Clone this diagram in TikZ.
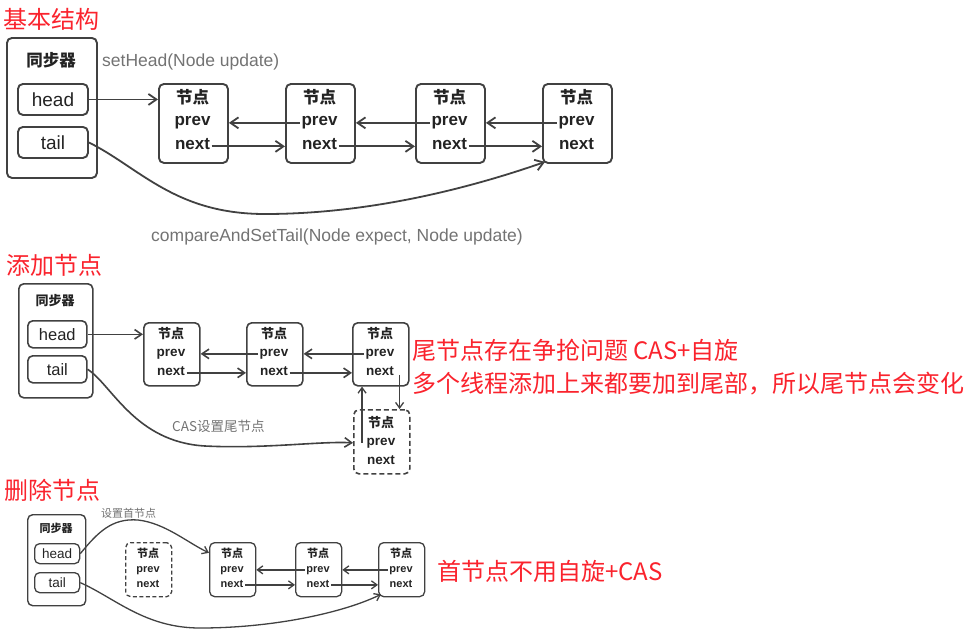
\documentclass[tikz,border=0pt]{standalone}
\usepackage{fontspec}
\setmainfont{Liberation Sans}
\newfontfamily\cjk{Noto Sans CJK SC}
\usetikzlibrary{arrows.meta}
\definecolor{redt}{RGB}{250,35,45}
\definecolor{lab}{RGB}{115,115,115}
\definecolor{boxc}{RGB}{65,65,65}
\definecolor{txtc}{RGB}{35,35,35}
\begin{document}
\begin{tikzpicture}[x=1pt,y=-1pt,
  box/.style={draw=boxc, rounded corners=5pt, line width=1.9pt, anchor=north west, inner sep=0pt, text=txtc},
  dbox/.style={box, dash pattern=on 5pt off 3pt},
  arr/.style={draw=boxc, line width=1.8pt, -{Straight Barb[length=8pt,width=11pt]}},
  arrm/.style={draw=boxc, line width=1.6pt, -{Straight Barb[length=7pt,width=9.5pt]}},
  arrs/.style={draw=boxc, line width=1.3pt, -{Straight Barb[length=5.5pt,width=8pt]}},
  title/.style={text=redt, font=\cjk\fontsize{24}{27}\selectfont, anchor=west, inner sep=0pt},
  rowA/.style={font=\bfseries\fontsize{17}{20}\selectfont, text=txtc, inner sep=1.5pt, anchor=base},
  cjkA/.style={font=\cjk\bfseries\fontsize{16.5}{20}\selectfont, text=txtc, inner sep=1pt, anchor=base},
  rowB/.style={font=\bfseries\fontsize{13.5}{16}\selectfont, text=txtc, inner sep=1.5pt, anchor=base},
  cjkB/.style={font=\cjk\bfseries\fontsize{13}{16}\selectfont, text=txtc, inner sep=1pt, anchor=base},
  rowC/.style={font=\bfseries\fontsize{11}{13}\selectfont, text=txtc, inner sep=1.5pt, anchor=base},
  cjkC/.style={font=\cjk\bfseries\fontsize{11}{13}\selectfont, text=txtc, inner sep=1pt, anchor=base},
]
\useasboundingbox (0,0) rectangle (971,635);

% ---------------- Section 1 ----------------
\node[title] (t1) at (3,19) {基本结构};
\node[box, minimum width=90, minimum height=140] (s1) at (6,37) {};
\node[cjkA, anchor=center] (s1t) at (51,60) {同步器};
\node[box, minimum width=70, minimum height=31, font=\fontsize{19}{22}\selectfont] (hd1) at (17,83) {head};
\node[box, minimum width=70, minimum height=31, font=\fontsize{19}{22}\selectfont] (tl1) at (17,126) {tail};
\node[text=lab, font=\fontsize{17.5}{20}\selectfont, anchor=west, inner sep=0pt] (sh) at (102,62) {setHead(Node update)};
\foreach \i/\x in {1/158,2/285,3/415,4/542} {
  \pgfmathsetmacro\cx{\x+34.5}
  \node[box, minimum width=69, minimum height=79] (n\i) at (\x,83) {};
  \node[cjkA] (n\i-c) at (\cx,103.5) {节点};
  \node[rowA] (n\i-p) at (\cx,125.5) {prev};
  \node[rowA] (n\i-n) at (\cx,149) {next};
}
\draw[arr] (hd1.east) -- (hd1.east -| n1.west);
\foreach \a/\b in {1/2,2/3,3/4} {
  \draw[arr] (n\b-p.mid west) -- (n\b-p.mid west -| n\a.east);
  \draw[arr] (n\a-n.mid east) -- (n\a-n.mid east -| n\b.west);
}
\draw[arr] (tl1.east) .. controls (140,168) and (175,214) .. (265,214)
  .. controls (370,214) and (470,188) .. ([shift={(3,-2)}]n4.south west);
\node[text=lab, font=\fontsize{17.5}{20}\selectfont, anchor=west, inner sep=0pt] (cs) at (151,237) {compareAndSetTail(Node expect, Node update)};

% ---------------- Section 2 ----------------
\node[title] (t2) at (6,265) {添加节点};
\node[box, minimum width=74, minimum height=114, line width=1.6pt] (s2) at (18,283) {};
\node[cjkB, anchor=center] (s2t) at (55,301) {同步器};
\node[box, minimum width=59, minimum height=27, line width=1.6pt, font=\fontsize{16.5}{19}\selectfont] (hd2) at (27,320) {head};
\node[box, minimum width=59, minimum height=27, line width=1.6pt, font=\fontsize{16.5}{19}\selectfont] (tl2) at (27,355) {tail};
\foreach \i/\x in {1/143,2/246,3/352} {
  \pgfmathsetmacro\cx{\x+28}
  \node[box, minimum width=56, minimum height=63, line width=1.6pt] (a\i) at (\x,322) {};
  \node[cjkB] (a\i-c) at (\cx,338.5) {节点};
  \node[rowB] (a\i-p) at (\cx,356.5) {prev};
  \node[rowB] (a\i-n) at (\cx,375.5) {next};
}
\node[dbox, minimum width=56, minimum height=64, line width=1.6pt] (a4) at (353,409) {};
\node[cjkB] (a4-c) at (381,427.5) {节点};
\node[rowB] (a4-p) at (381,445.5) {prev};
\node[rowB] (a4-n) at (381,464.5) {next};
\draw[arrm] (hd2.east) -- (hd2.east -| a1.west);
\foreach \a/\b in {1/2,2/3} {
  \draw[arrm] (a\b-p.mid west) -- (a\b-p.mid west -| a\a.east);
  \draw[arrm] (a\a-n.mid east) -- (a\a-n.mid east -| a\b.west);
}
\draw[arrs] ([xshift=-3pt]a4-p.mid west) -- ([xshift=-3pt]a4-p.mid west |- a3.south);
\draw[arrs] ([xshift=4pt,yshift=-2pt]a3-n.mid east) -- ([xshift=4pt]a3-n.mid east |- a4.north);
\draw[arrm] (tl2.east) .. controls (112,385) and (135,442) .. (205,446)
  .. controls (265,449) and (320,441) .. (a4-p.mid west -| a4.west);
\node[text=lab, font=\cjk\fontsize{13.5}{16}\selectfont, anchor=west, inner sep=0pt] (cas) at (172,426) {CAS设置尾节点};
\node[title] (r1) at (412,350) {尾节点存在争抢问题\hspace{5pt}CAS+自旋};
\node[title] (r2) at (412,384) {多个线程添加上来都要加到尾部，所以尾节点会变化};

% ---------------- Section 3 ----------------
\node[title] (t3) at (4,490) {删除节点};
\node[box, minimum width=58, minimum height=91, line width=1.4pt] (s3) at (27,514) {};
\node[cjkC, anchor=center] (s3t) at (56,528) {同步器};
\node[box, minimum width=45, minimum height=20, line width=1.3pt, font=\fontsize{13.5}{16}\selectfont] (hd3) at (34,543) {head};
\node[box, minimum width=45, minimum height=20, line width=1.3pt, font=\fontsize{13.5}{16}\selectfont] (tl3) at (34,572) {tail};
\node[text=lab, font=\cjk\fontsize{11}{13}\selectfont, anchor=west, inner sep=0pt] (szs) at (101,513) {设置首节点};
\node[dbox, minimum width=46, minimum height=54, line width=1.3pt, dash pattern=on 4pt off 2.5pt] (d0) at (125,542) {};
\node[cjkC] (d0-c) at (148,557) {节点};
\node[rowC] (d0-p) at (148,572.5) {prev};
\node[rowC] (d0-n) at (148,587.5) {next};
\foreach \i/\x in {1/209,2/295,3/378} {
  \pgfmathsetmacro\cx{\x+23}
  \node[box, minimum width=46, minimum height=54, line width=1.3pt] (d\i) at (\x,542) {};
  \node[cjkC] (d\i-c) at (\cx,557) {节点};
  \node[rowC] (d\i-p) at (\cx,572.5) {prev};
  \node[rowC] (d\i-n) at (\cx,587.5) {next};
}
\foreach \a/\b in {1/2,2/3} {
  \draw[arrs] (d\b-p.mid west) -- (d\b-p.mid west -| d\a.east);
  \draw[arrs] (d\a-n.mid east) -- (d\a-n.mid east -| d\b.west);
}
\draw[arrs] (hd3.east) .. controls (98,532) and (112,518) .. (138,520)
  .. controls (165,523) and (188,543) .. (d1-c.west -| d1.west);
\draw[arrs] (tl3.east) .. controls (115,598) and (145,628) .. (200,628)
  .. controls (275,628) and (345,612) .. ([shift={(3,-3)}]d3.south west);
\node[title] (r3) at (437,571) {首节点不用自旋+CAS};
\end{tikzpicture}
\end{document}
